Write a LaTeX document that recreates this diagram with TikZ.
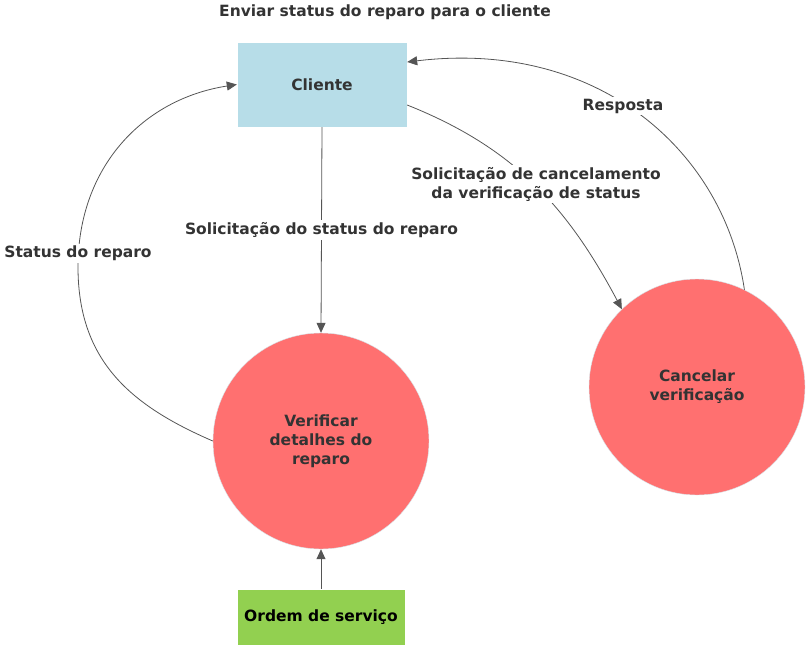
\documentclass[tikz,border=0pt]{standalone}
\usepackage{fontspec}
\setmainfont{DejaVu Sans}
\usepackage{tikz}
\usetikzlibrary{arrows.meta}
\definecolor{caixa}{HTML}{B7DDE8}
\definecolor{processo}{HTML}{FF7070}
\definecolor{ordem}{HTML}{92D050}
\definecolor{linha}{HTML}{555555}
\definecolor{texto}{HTML}{333333}
\tikzset{
  entidade/.style={draw=white, fill=caixa, minimum width=170pt, minimum height=85pt, inner sep=0pt},
  processo/.style={circle, draw=caixa!60, fill=processo, minimum size=216pt, inner sep=0pt, align=center},
  rotulo/.style={fill=white, inner sep=2pt, align=center, text=texto},
  fluxo/.style={draw=linha, -{Triangle[length=10pt,width=9pt]}, line width=0.8pt},
}
\begin{document}
\begin{tikzpicture}[x=1pt, y=-1pt, font=\fontsize{15.5}{19}\selectfont\bfseries]%倍率
                \useasboundingbox (0,0) rectangle (812,654);
                \node[text=texto] (titulo) at (385,12) {Enviar status do reparo para o cliente};%título
                \node[entidade, text=texto] (cliente) at (322,84.5) {Cliente};
                \node[processo, text=texto] (verificar) at (321,441) {Verificar\\detalhes do\\reparo};
                \node[processo, text=texto] (cancelar) at (697,387) {Cancelar\\verificação};
                \node[entidade, fill=ordem, minimum width=168pt, minimum height=56pt, text=black] (ordem) at (321,617) {Ordem de serviço};
                \draw[fluxo] (cliente.south) -- node[rotulo] {Solicitação do status do reparo} (verificar.north);
                \draw[fluxo] (verificar.180) .. controls (132,406) and (78,362) .. (78,267)
                                             .. controls (78,167) and (143,99) .. (cliente.west);
                \node[rotulo] (status) at (78,253) {Status do reparo};
                \draw[fluxo] (cliente.east |- 0,105) .. controls (515,148) and (568,208) .. (cancelar.134);
                \node[rotulo] (cancelamento) at (536,184) {Solicitação de cancelamento\\da verificação de status};
                \draw[fluxo] (cancelar.64) .. controls (724,151) and (598,39) .. (cliente.east |- 0,62);
                \node[rotulo] (resposta) at (623,106) {Resposta};
                \draw[fluxo] (ordem.north) -- (verificar.south);
            \end{tikzpicture}
\end{document}
